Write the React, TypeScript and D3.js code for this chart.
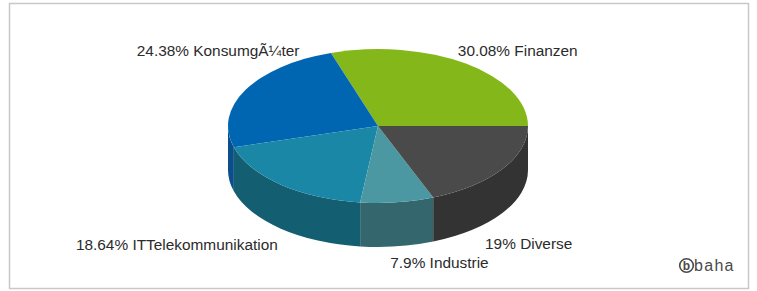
import React from 'react';
import * as d3 from 'd3';

// slice data (percent)
const categories = ['Finanzen', 'Konsumg\u00C3\u00BCter', 'ITTelekommunikation', 'Industrie', 'Diverse'];
const shares = [30.08, 24.38, 18.64, 7.9, 19];
const valueLabels = ['30.08%', '24.38%', '18.64%', '7.9%', '19%'];

// colours
const topColors = ['#84b81a', '#0066b2', '#1b87a7', '#4c98a2', '#4a4a4a'];
const sideColors = ['#5f8a12', '#0c4e8a', '#145e71', '#33676d', '#333333'];

// label nudges relative to the slice's rim point [dx, dy, anchor]
const labelNudge: [number, number, string][] = [
  [-8, -8, 'start'],
  [54, -34, 'end'],
  [-3, 21, 'end'],
  [-7, 22, 'start'],
  [-17, 36, 'start'],
];

const W = 757;
const H = 291;
const cx = 378;
const cy = 126;
const rx = 150;
const ry = 77;
const depth = 44;

const pt = (t: number, dy = 0): [number, number] => [cx + rx * Math.cos(t), cy - ry * Math.sin(t) + dy];

export default function App() {
  // angles run counter-clockwise from 3 o'clock
  const arcs = d3.pie<number>().sort(null).value(d => d)(shares);

  const tops = arcs.map(a => {
    const [x0, y0] = pt(a.startAngle);
    const [x1, y1] = pt(a.endAngle);
    const large = a.endAngle - a.startAngle > Math.PI ? 1 : 0;
    return `M${cx},${cy}L${x0},${y0}A${rx},${ry} 0 ${large} 0 ${x1},${y1}Z`;
  });

  const sides = arcs.map(a => {
    const lo = Math.max(a.startAngle, Math.PI);
    const hi = Math.min(a.endAngle, 2 * Math.PI);
    if (lo >= hi) return null;
    const [x0, y0] = pt(lo);
    const [x1, y1] = pt(hi);
    return `M${x0},${y0}A${rx},${ry} 0 0 0 ${x1},${y1}L${x1},${y1 + depth}A${rx},${ry} 0 0 1 ${x0},${y0 + depth}Z`;
  });

  const labels = arcs.map((a, i) => {
    const mid = (a.startAngle + a.endAngle) / 2;
    const [x, y] = pt(mid, Math.sin(mid) < 0 ? depth : 0);
    const [dx, dy, anchor] = labelNudge[i];
    return { x: x + dx, y: y + dy, anchor, text: `${valueLabels[i]} ${categories[i]}` };
  });

  return (
    <svg width={W} height={H} style={{ position: 'absolute', left: 0, top: 0 }}>
      <rect x={0} y={0} width={W} height={H} fill="#ffffff" />
      <rect x={9.5} y={3.5} width={739} height={285} fill="#ffffff" stroke="#c8c8c8" strokeWidth={1.5} />
      <g>
        {sides.map((d, i) => d && <path key={'s' + i} d={d} fill={sideColors[i]} />)}
        {tops.map((d, i) => <path key={'t' + i} d={d} fill={topColors[i]} />)}
      </g>
      <g fontFamily="'Liberation Sans', Arial, sans-serif" fontSize={15.4} fill="#2b2b2b">
        {labels.map((l, i) => (
          <text key={i} x={l.x} y={l.y} textAnchor={l.anchor}>{l.text}</text>
        ))}
      </g>
      <g fontFamily="'Liberation Sans', Arial, sans-serif" fill="#4a4a4a">
        <circle cx={686.5} cy={265.5} r={6.8} fill="none" stroke="#4a4a4a" strokeWidth={1.6} />
        <text x={686.5} y={269.8} textAnchor="middle" fontSize={12} fontWeight="bold">b</text>
        <text x={694} y={271} fontSize={16} letterSpacing={1.3}>baha</text>
      </g>
    </svg>
  );
}
